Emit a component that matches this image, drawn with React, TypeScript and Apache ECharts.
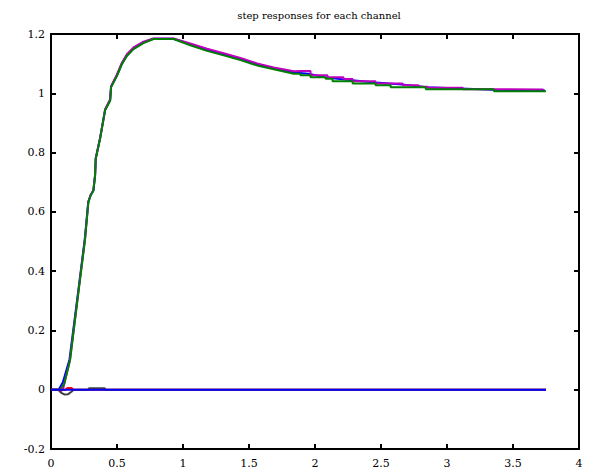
import React, { useEffect, useRef } from "react";
import * as echarts from "echarts";

const titleText = "step responses for each channel";
const xTicks = { min: 0, max: 4, interval: 0.5 };
const yTicks = { min: -0.2, max: 1.2, interval: 0.2 };

// [time, value] pairs
const greenResp: number[][] = [
  [0, 0], [0.068, 0], [0.1, 0.02], [0.144, 0.099], [0.207, 0.326], [0.258, 0.507],
  [0.283, 0.632], [0.3, 0.655], [0.321, 0.671], [0.334, 0.722], [0.339, 0.779],
  [0.372, 0.847], [0.41, 0.943], [0.448, 0.975], [0.455, 1.02], [0.499, 1.058],
  [0.537, 1.098], [0.575, 1.126], [0.625, 1.149], [0.7, 1.169], [0.776, 1.183],
  [0.928, 1.183], [1.055, 1.162], [1.182, 1.143], [1.308, 1.128], [1.435, 1.112],
  [1.561, 1.094], [1.687, 1.081], [1.839, 1.066], [1.89, 1.066], [1.89, 1.061],
  [1.966, 1.061], [1.966, 1.054], [2.08, 1.054], [2.08, 1.049], [2.133, 1.049],
  [2.133, 1.041], [2.285, 1.041], [2.285, 1.033], [2.459, 1.033], [2.459, 1.027],
  [2.573, 1.027], [2.573, 1.02], [2.839, 1.02], [2.839, 1.014], [3.355, 1.014],
  [3.355, 1.007], [3.75, 1.007],
];

const magentaResp: number[][] = [
  [0, 0], [0.05, 0], [0.07, -0.006], [0.09, 0], [0.1, 0.018], [0.144, 0.1],
  [0.207, 0.328], [0.258, 0.51], [0.283, 0.634], [0.3, 0.657], [0.321, 0.673],
  [0.334, 0.725], [0.339, 0.782], [0.372, 0.85], [0.41, 0.946], [0.448, 0.98],
  [0.455, 1.024], [0.499, 1.063], [0.537, 1.103], [0.575, 1.132], [0.625, 1.155],
  [0.7, 1.174], [0.776, 1.185], [0.928, 1.185], [1.055, 1.168], [1.182, 1.15],
  [1.308, 1.135], [1.435, 1.119], [1.561, 1.101], [1.687, 1.087], [1.839, 1.074],
  [1.89, 1.075], [1.966, 1.075], [1.966, 1.061], [2.095, 1.061], [2.095, 1.054],
  [2.216, 1.054], [2.216, 1.048], [2.285, 1.048], [2.285, 1.041], [2.459, 1.041],
  [2.459, 1.033], [2.664, 1.033], [2.664, 1.027], [2.786, 1.027], [2.786, 1.022],
  [2.854, 1.022], [2.854, 1.019], [3.12, 1.019], [3.12, 1.014], [3.73, 1.013],
];

const blueResp: number[][] = [
  [0, 0], [0.058, 0], [0.09, 0.025], [0.14, 0.102], [0.205, 0.328], [0.256, 0.509],
  [0.282, 0.633], [0.3, 0.656], [0.321, 0.672], [0.334, 0.723], [0.339, 0.78],
  [0.372, 0.848], [0.41, 0.944], [0.448, 0.977], [0.455, 1.022], [0.499, 1.06],
  [0.537, 1.1], [0.575, 1.128], [0.625, 1.151], [0.7, 1.171], [0.776, 1.184],
  [0.928, 1.184], [1.055, 1.165], [1.182, 1.146], [1.308, 1.131], [1.435, 1.115],
  [1.561, 1.097], [1.687, 1.084], [1.839, 1.07], [1.95, 1.066], [2.1, 1.052],
  [2.28, 1.044], [2.46, 1.036], [2.66, 1.03], [2.85, 1.02], [3.35, 1.012],
  [3.74, 1.01],
];

const redResp: number[][] = [
  [0, 0], [0.11, 0], [0.125, 0.006], [0.155, 0.006], [0.17, 0], [3.75, 0],
];

const grayResp: number[][] = [
  [0, 0], [0.06, 0], [0.075, -0.01], [0.1, -0.016], [0.13, -0.015], [0.155, -0.007],
  [0.17, 0], [0.28, 0], [0.29, 0.005], [0.405, 0.005], [0.415, 0], [3.75, 0],
];

const blueFlat: number[][] = [
  [0, 0], [3.75, 0],
];

const FONT = "DejaVu Serif";

export default function App() {
  const ref = useRef<HTMLDivElement>(null);
  useEffect(() => {
    if (!ref.current) return;
    const chart = echarts.init(ref.current, undefined, { renderer: "svg" });
    const axisLine = { show: true, onZero: false, lineStyle: { color: "#000", width: 2 } };
    const axisTick = { show: true, inside: true, length: 5, lineStyle: { color: "#000", width: 2 } };
    const label = { color: "#000", fontFamily: FONT, fontSize: 11 };
    const line = (data: number[][], color: string, z: number) => ({
      type: "line",
      data,
      showSymbol: false,
      symbol: "none",
      lineStyle: { color, width: 2 },
      itemStyle: { color },
      z,
    });
    chart.setOption({
      animation: false,
      backgroundColor: "#fff",
      textStyle: { fontFamily: FONT },
      title: {
        text: titleText,
        left: 314,
        top: 5,
        textAlign: "center",
        textStyle: { fontFamily: FONT, fontSize: 10, fontWeight: "normal", color: "#000" },
      },
      grid: { left: 51, right: 14, top: 34, bottom: 25, containLabel: false },
      xAxis: [
        {
          type: "value", ...xTicks, position: "bottom",
          axisLine, axisTick, splitLine: { show: false },
          axisLabel: { ...label, margin: 9 },
        },
        {
          type: "value", ...xTicks, position: "top",
          axisLine, axisTick, splitLine: { show: false },
          axisLabel: { show: false },
        },
      ],
      yAxis: [
        {
          type: "value", ...yTicks, position: "left",
          axisLine, axisTick, splitLine: { show: false },
          axisLabel: { ...label, margin: 6 },
        },
        {
          type: "value", ...yTicks, position: "right",
          axisLine, axisTick, splitLine: { show: false },
          axisLabel: { show: false },
        },
      ],
      series: [
        line(blueResp, "#0000ff", 2),
        line(magentaResp, "#bf00bf", 3),
        line(greenResp, "#008000", 4),
        line(redResp, "#ff0000", 5),
        line(grayResp, "#404040", 6),
        line(blueFlat, "#0000ff", 7),
      ],
    });
    return () => chart.dispose();
  }, []);
  return (
    <div
      ref={ref}
      style={{ position: "fixed", left: 0, top: 0, width: 593, height: 474, background: "#fff" }}
    />
  );
}
